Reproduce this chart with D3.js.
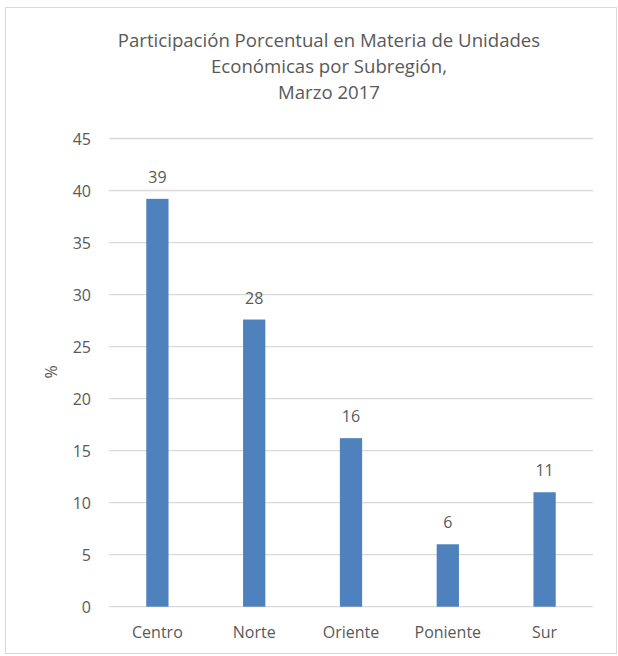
<!DOCTYPE html>
<html>
<head>
<meta charset="utf-8">
<script src="https://cdn.jsdelivr.net/npm/d3@7"></script>
<style>
  body { margin: 0; background: #fff; }
  text { font-family: "Open Sans", sans-serif; fill: #595959; }
</style>
</head>
<body>
<svg width="618" height="656"></svg>
<script>
  // data
  var categories = ["Centro", "Norte", "Oriente", "Poniente", "Sur"];
  var values = [39.2, 27.6, 16.2, 6.0, 11.0];
  var yTicks = [0, 5, 10, 15, 20, 25, 30, 35, 40, 45];
  var titleLines = [
    "Participación Porcentual en Materia de Unidades",
    "Económicas por Subregión,",
    "Marzo 2017"
  ];

  var svg = d3.select("svg"),
    plotLeft = 109,
    plotRight = 593,
    plotTop = 138.5,
    plotBottom = 606.7;

  // chart border
  svg
    .append("rect")
    .attr("x", 5.5)
    .attr("y", 7.5)
    .attr("width", 611)
    .attr("height", 646)
    .attr("fill", "none")
    .attr("stroke", "#d9d9d9");

  var x = d3.scaleBand().domain(categories).range([plotLeft, plotRight]).padding(0);
  var y = d3.scaleLinear().domain([0, 45]).range([plotBottom, plotTop]);
  var barW = x.bandwidth() * 0.23;

  // title
  svg
    .append("g")
    .selectAll("text")
    .data(titleLines)
    .enter()
    .append("text")
    .attr("x", 329)
    .attr("y", function (d, i) {
      return 47.3 + i * 26;
    })
    .attr("text-anchor", "middle")
    .style("font-size", "18.6px")
    .text(function (d) {
      return d;
    });

  // gridlines
  svg
    .append("g")
    .selectAll("line")
    .data(yTicks)
    .enter()
    .append("line")
    .attr("x1", plotLeft)
    .attr("x2", plotRight)
    .attr("y1", function (d) {
      return y(d);
    })
    .attr("y2", function (d) {
      return y(d);
    })
    .attr("stroke", "#d9d9d9")
    .attr("stroke-width", 1.3);

  // y axis labels
  var yAxis = svg
    .append("g")
    .attr("transform", "translate(" + (plotLeft - 18) + ",0)")
    .call(d3.axisLeft(y).tickValues(yTicks).tickSize(0).tickPadding(0));
  yAxis.select(".domain").remove();
  yAxis
    .selectAll("text")
    .attr("fill", "#595959")
    .attr("dy", "0.36em")
    .style("font-size", "16px")
    .style("font-family", "Open Sans");

  svg
    .append("text")
    .attr("transform", "translate(57,372) rotate(-90)")
    .attr("text-anchor", "middle")
    .style("font-size", "16px")
    .text("%");

  // bars
  svg
    .append("g")
    .selectAll("rect")
    .data(values)
    .enter()
    .append("rect")
    .attr("x", function (d, i) {
      return x(categories[i]) + x.bandwidth() / 2 - barW / 2;
    })
    .attr("y", function (d) {
      return y(d);
    })
    .attr("width", barW)
    .attr("height", function (d) {
      return plotBottom - y(d);
    })
    .attr("fill", "#4f81bd");

  // value labels
  svg
    .append("g")
    .selectAll("text")
    .data(values)
    .enter()
    .append("text")
    .attr("x", function (d, i) {
      return x(categories[i]) + x.bandwidth() / 2;
    })
    .attr("y", function (d) {
      return y(d) - 16;
    })
    .attr("text-anchor", "middle")
    .style("font-size", "16px")
    .text(function (d) {
      return Math.round(d);
    });

  // x axis labels
  var xAxis = svg
    .append("g")
    .attr("transform", "translate(0," + plotBottom + ")")
    .call(d3.axisBottom(x).tickSize(0).tickPadding(0));
  xAxis.select(".domain").remove();
  xAxis
    .selectAll("text")
    .attr("fill", "#595959")
    .attr("dy", null)
    .attr("y", 31)
    .style("font-size", "16px")
    .style("font-family", "Open Sans");
</script>
</body>
</html>
